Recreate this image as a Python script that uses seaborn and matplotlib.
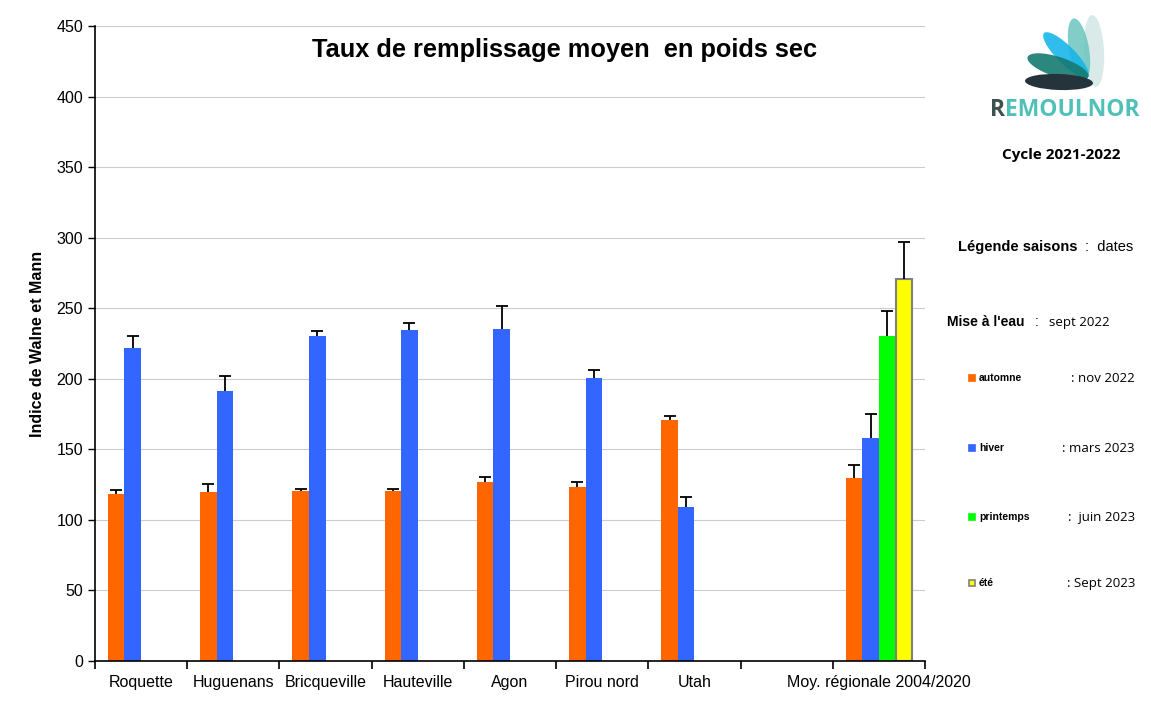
import numpy as np
import pandas as pd
import seaborn as sns
import matplotlib.pyplot as plt
from matplotlib.patches import Ellipse, Rectangle

# Data
sites = ["Roquette", "Huguenans", "Bricqueville", "Hauteville", "Agon",
         "Pirou nord", "Utah", "Moy. régionale 2004/2020"]
saisons = ["automne", "hiver", "printemps", "été"]
automne = [118.5, 120.0, 120.5, 120.5, 127.0, 123.3, 170.8, 129.5]
automne_err = [2.5, 5.5, 1.5, 0.3, 3.5, 3.3, 2.6, 9.2]
hiver = [221.8, 191.4, 230.3, 234.6, 235.3, 200.6, 109.5, 158.0]
hiver_err = [8.2, 10.6, 3.6, 4.9, 16.3, 5.4, 6.5, 17.0]
printemps = [230.3]          # only regional average
printemps_err = [17.7]
ete = [270.5]
ete_err = [26.7]
dates = [": nov 2022", ": mars 2023", ":  juin 2023", ": Sept 2023"]
couleurs = {"automne": "#FF6600", "hiver": "#3366FF",
            "printemps": "#00FF00", "été": "#FFFF00"}

rows = []
for s, v, e in zip(sites, automne, automne_err):
    rows.append((s, "automne", v, e))
for s, v, e in zip(sites, hiver, hiver_err):
    rows.append((s, "hiver", v, e))
rows.append((sites[-1], "printemps", printemps[0], printemps_err[0]))
rows.append((sites[-1], "été", ete[0], ete_err[0]))
df = pd.DataFrame(rows, columns=["site", "saison", "valeur", "err"])

order = sites[:7] + [" "] + sites[7:]   # empty slot before the average

sns.set_style("white")
plt.rcParams["font.family"] = ["Liberation Sans", "DejaVu Sans"]
plt.rcParams["text.color"] = "black"
plt.rcParams["axes.labelcolor"] = "black"
plt.rcParams["xtick.color"] = "black"
plt.rcParams["ytick.color"] = "black"

fig = plt.figure(figsize=(11.51, 7.13), dpi=100)
ax = fig.add_axes([0.0825, 0.0729, 0.7212, 0.8906])

sns.barplot(data=df, x="site", y="valeur", hue="saison", order=order,
            hue_order=saisons, palette=couleurs, width=0.72, gap=0,
            saturation=1, legend=False, ax=ax)

# one-sided error bars on top of each bar
for saison, cont in zip(saisons, ax.containers):
    sub = df[df.saison == saison]
    for bar in cont:
        h = bar.get_height()
        if np.isnan(h) or h == 0:
            continue
        e = sub.loc[(sub.valeur - h).abs().idxmin(), "err"]
        x = bar.get_x() + bar.get_width() / 2
        eb = ax.errorbar(x, h, yerr=[[0], [e]], fmt="none", ecolor="black",
                         elinewidth=1.3, capsize=4, capthick=1.3, zorder=3)
        eb[1][0].set_visible(False)   # no lower cap
        bar.set_linewidth(0)
        if saison == "été":
            bar.set_edgecolor("#808080")
            bar.set_linewidth(1.5)

ax.set_xlim(-0.5, len(order) - 0.5)
ax.set_ylim(0, 450)
ax.set_yticks(np.arange(0, 451, 50))
ax.yaxis.grid(True, color="#cccccc", linewidth=0.8)
ax.set_axisbelow(True)
for side in ["top", "right"]:
    ax.spines[side].set_visible(False)
for side in ["left", "bottom"]:
    ax.spines[side].set_color("black")
    ax.spines[side].set_linewidth(1.2)

ax.set_xticks(range(len(order)))
ax.set_xticklabels(order, fontsize=11.5)
ax.set_xticks(np.arange(-0.5, len(order), 1), minor=True)
ax.tick_params(axis="x", which="major", length=0, pad=10)
ax.tick_params(axis="x", which="minor", length=6, width=1.2, color="black",
               direction="out", bottom=True)
ax.tick_params(axis="y", length=5, width=1, color="black", direction="out",
               left=True, labelsize=11.5)
ax.set_xlabel("")
ax.set_ylabel("Indice de Walne et Mann", fontsize=11.5, fontweight="bold",
              labelpad=8)

fig.text(565 / 1151, 1 - 50 / 713, "Taux de remplissage moyen  en poids sec",
         ha="center", va="center", fontsize=18.3, fontweight="bold")

# logo
lax = fig.add_axes([1010 / 1151, 1 - 100 / 713, 105 / 1151, 90 / 713])
lax.set_xlim(1010, 1115)
lax.set_ylim(100, 10)
lax.axis("off")
logo = [((1094, 51), 72, 20, 87, "#d5e8e6", 0.9),
        ((1079, 49), 62, 20, 80, "#6cc5bf", 0.85),
        ((1066, 55), 62, 18, 45, "#19b5ea", 0.9),
        ((1058, 67), 64, 20, 18, "#157a70", 0.9),
        ((1059, 82), 68, 16, 2, "#25333a", 1.0)]
for c, w, hgt, ang, col, a in logo:
    lax.add_patch(Ellipse(c, w, hgt, angle=ang, color=col, alpha=a, lw=0))

renderer = fig.canvas.get_renderer()
t_r = fig.text(990 / 1151, 1 - 110 / 713, "R", ha="left", va="center",
               fontsize=16.5, fontweight="bold", color="#3d5050",
               family="Open Sans")
x_next = t_r.get_window_extent(renderer).x1 / fig.bbox.width
fig.text(x_next, 1 - 110 / 713, "EMOULNOR", ha="left", va="center",
         fontsize=16.5, fontweight="bold", color="#4fc1b9", family="Open Sans")
fig.text(1061 / 1151, 1 - 155 / 713, "Cycle 2021-2022", ha="center",
         va="center", fontsize=11, fontweight="bold", family="Open Sans")

# season legend
fig.text(958 / 1151, 1 - 247 / 713, "Légende saisons", ha="left",
         va="center", fontsize=10.5, fontweight="bold")
fig.text(1133 / 1151, 1 - 247 / 713, ":  dates", ha="right", va="center",
         fontsize=10.5)
fig.text(947 / 1151, 1 - 322 / 713, "Mise à l'eau", ha="left", va="center",
         fontsize=10, fontweight="bold")
fig.text(1035 / 1151, 1 - 322 / 713, ":", ha="left", va="center",
         fontsize=10)
fig.text(1110 / 1151, 1 - 322 / 713, "sept 2022", ha="right", va="center",
         fontsize=9.5, family="Open Sans")

ys = [378, 448, 517, 583]
for saison, d, y in zip(saisons, dates, ys):
    edge = "#808080" if saison == "été" else couleurs[saison]
    fig.patches.append(Rectangle((969 / 1151, 1 - (y + 3) / 713),
                                 6 / 1151, 6 / 713, facecolor=couleurs[saison],
                                 edgecolor=edge, lw=1.2,
                                 transform=fig.transFigure, figure=fig))
    fig.text(979 / 1151, 1 - y / 713, saison, ha="left", va="center",
             fontsize=7.5, fontweight="bold")
    fig.text(1135 / 1151, 1 - y / 713, d, ha="right", va="center",
             fontsize=9.5, family="Open Sans")

fig.savefig("out.png", dpi=100)
